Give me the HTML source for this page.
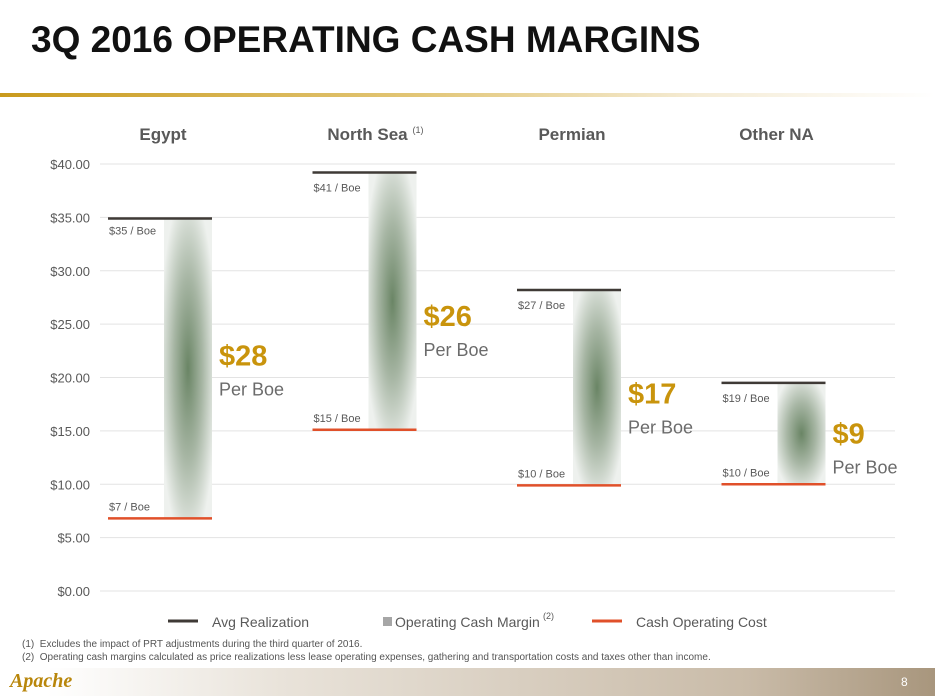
<!DOCTYPE html>
<html><head><meta charset="utf-8"><style>
body{margin:0;width:935px;height:696px;overflow:hidden;background:#fff;font-family:"Liberation Sans",sans-serif;position:relative}
.t{position:absolute;white-space:nowrap}
</style></head><body>
<div class="t" style="left:31px;top:19px;font-size:37px;font-weight:bold;color:#111;transform:scaleX(1.0);transform-origin:left">3Q 2016 OPERATING CASH MARGINS</div>
<div style="position:absolute;left:0;top:93px;width:935px;height:4px;background:linear-gradient(90deg,#c99a1c,#e2c677 45%,#f5ecd6 75%,#fff)"></div>
<svg id="chart" width="935" height="696" style="position:absolute;left:0;top:0"></svg>
<div class="t" style="left:22px;top:639px;font-size:10px;color:#555">(1)&nbsp; Excludes the impact of PRT adjustments during the third quarter of 2016.</div>
<div class="t" style="left:22px;top:652px;font-size:10px;color:#555">(2)&nbsp; Operating cash margins calculated as price realizations less lease operating expenses, gathering and transportation costs and taxes other than income.</div>
<div style="position:absolute;left:0;top:668px;width:935px;height:28px;background:linear-gradient(90deg,#fff 5%,#e9e3da 30%,#c9bba8 80%,#a8967d)"></div>
<div class="t" style="left:10px;top:670px;font-size:20px;font-style:italic;font-weight:bold;color:#b8860b;font-family:'Liberation Serif',serif">Apache</div>
<div class="t" style="left:901px;top:675px;font-size:12px;color:#fff">8</div>
<script>
const categories=["Egypt","North Sea","Permian","Other NA"];
const avgRealization=[34.9,39.2,28.2,19.5];
const cashCost=[6.8,15.1,9.9,10.0];
const avgLabels=["$35 / Boe","$41 / Boe","$27 / Boe","$19 / Boe"];
const costLabels=["$7 / Boe","$15 / Boe","$10 / Boe","$10 / Boe"];
const marginLabels=["$28","$26","$17","$9"];
const yTicks=[0,5,10,15,20,25,30,35,40];
const NS="http://www.w3.org/2000/svg";
const svg=document.getElementById('chart');
const y=v=>591-v*10.675;
const xc=i=>188+i*204.5;
function el(tag,attrs,parent){const e=document.createElementNS(NS,tag);for(const k in attrs)e.setAttribute(k,attrs[k]);(parent||svg).appendChild(e);return e;}
const defs=el('defs',{});
const rg=el('radialGradient',{id:'g',cx:'0.5',cy:'0.5',r:'0.6'},defs);
el('stop',{offset:'0','stop-color':'#6a8565'},rg);
el('stop',{offset:'0.5','stop-color':'#a7b6a4'},rg);
el('stop',{offset:'1','stop-color':'#eef1ee'},rg);
yTicks.forEach(v=>{
 const l=el('line',{x1:100,x2:895,y1:y(v),y2:y(v),stroke:'#e3e3e3','stroke-width':1});
 
 const t=el('text',{x:90,y:y(v)+5,'text-anchor':'end','font-size':13,fill:'#595959'});
 t.textContent='$'+v.toFixed(2);
 
});
const off=[-3,25,16,10];
categories.forEach((c,i)=>{
 const cx=xc(i);
 const h=el('text',{x:cx-25,y:140,'text-anchor':'middle','font-size':17,'font-weight':'bold',fill:'#595959'});
 h.textContent=c;
 
 if(i==1){const s=el('text',{x:cx+20,y:133,'font-size':9,fill:'#595959'});s.textContent='(1)';}
 const bx=cx-24,bw=48;
 const b=el('rect',{x:bx,y:y(avgRealization[i]),width:bw,height:y(cashCost[i])-y(avgRealization[i]),fill:'url(#g)'});
 
 const a=el('line',{x1:bx-56,x2:bx+bw,y1:y(avgRealization[i]),y2:y(avgRealization[i]),stroke:'#3f3a36','stroke-width':2.5});
 
 const k=el('line',{x1:bx-56,x2:bx+bw,y1:y(cashCost[i]),y2:y(cashCost[i]),stroke:'#e0502a','stroke-width':2.5});
 
 const al=el('text',{x:bx-55,y:y(avgRealization[i])+(i==0?16:19),'font-size':11,fill:'#595959'});
 al.textContent=avgLabels[i];
 
 const cl=el('text',{x:bx-55,y:y(cashCost[i])-8,'font-size':11,fill:'#595959'});
 cl.textContent=costLabels[i];
 
 const mid=(y(avgRealization[i])+y(cashCost[i]))/2;
 const ml=el('text',{x:bx+bw+7,y:mid+off[i],'font-size':29,'font-weight':'bold',fill:'#c9940c'});
 ml.textContent=marginLabels[i];
 
 const pb=el('text',{x:bx+bw+7,y:mid+off[i]+30,'font-size':18,fill:'#6b6b6b'});
 pb.textContent='Per Boe';
 
});
const lg=[[168,'Avg Realization','#3f3a36'],[592,'Cash Operating Cost','#e0502a']];
lg.forEach(([x,t,c])=>{
 const l=el('line',{x1:x,x2:x+30,y1:621,y2:621,stroke:c,'stroke-width':3});
 
 const tx=el('text',{x:x+44,y:627,'font-size':14,fill:'#595959'});tx.textContent=t;
 
});
const sq=el('rect',{x:383,y:617,width:9,height:9,fill:'#a6a6a6'});

const om=el('text',{x:395,y:627,'font-size':14,fill:'#595959'});om.textContent='Operating Cash Margin';

const sp=el('text',{x:543,y:619,'font-size':9,fill:'#595959'});sp.textContent='(2)';
</script>
</body></html>
